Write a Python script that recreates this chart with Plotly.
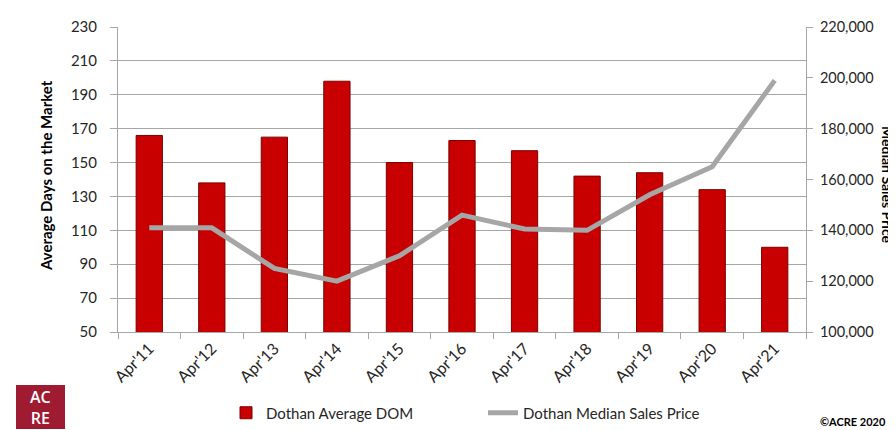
import plotly.graph_objects as go

categories = ["Apr'11", "Apr'12", "Apr'13", "Apr'14", "Apr'15", "Apr'16",
              "Apr'17", "Apr'18", "Apr'19", "Apr'20", "Apr'21"]
avg_dom = [166, 138, 165, 198, 150, 163, 157, 142, 144, 134, 100]
median_price = [141000, 141000, 125000, 120000, 130000, 146000,
                140500, 140000, 154000, 165000, 199000]

# page body has an 8px offset, so the figure is drawn 8px smaller and every
# reference pixel position is shifted by that amount
OFF = 8
W, H = 896 - OFF, 430 - OFF
L, R, T, B = 118, 806, 27, 332   # plot area in reference pixels

def px(x):
    return (x - L) / (R - L)

def py(y):
    return (B - y) / (B - T)

def cx(x):
    return (x - OFF) / W

def cy(y):
    return 1 - (y - OFF) / H

FONT = "Lato"

fig = go.Figure()
fig.add_trace(go.Bar(
    x=categories, y=avg_dom, name="Dothan Average DOM",
    marker=dict(color="#C80000", line=dict(color="#7A0000", width=1)),
    yaxis="y",
))
fig.add_trace(go.Scatter(
    x=categories, y=median_price, name="Dothan Median Sales Price",
    mode="lines", line=dict(color="#A6A6A6", width=5),
    yaxis="y2",
))

fig.update_layout(
    width=W, height=H,
    margin=dict(l=L - OFF, r=W - (R - OFF), t=T - OFF, b=H - (B - OFF),
                autoexpand=False),
    paper_bgcolor="white", plot_bgcolor="white",
    font=dict(family=FONT, size=14, color="#262626"),
    bargap=0.58,
    showlegend=True,
    legend=dict(orientation="h", xref="container", yref="container",
                x=cx(226), xanchor="left",
                y=cy(413), yanchor="middle",
                font=dict(size=15, color="#262626"),
                entrywidth=212, entrywidthmode="pixels",
                bgcolor="rgba(0,0,0,0)"),
    xaxis=dict(type="category", tickangle=-45, showgrid=False,
               showline=True, linecolor="#A6A6A6", linewidth=1,
               ticks="outside", tickson="boundaries", ticklen=6,
               tickcolor="#A6A6A6", tickfont=dict(size=16), automargin=False),
    yaxis=dict(range=[50, 230], tickvals=list(range(50, 231, 20)),
               showgrid=True, gridcolor="#A6A6A6", gridwidth=1,
               showline=True, linecolor="#A6A6A6", ticks="outside",
               ticklen=7, tickcolor="#A6A6A6", tickfont=dict(size=15),
               ticklabelstandoff=10, zeroline=False, automargin=False),
    yaxis2=dict(range=[100000, 220000], tickvals=list(range(100000, 220001, 20000)),
                overlaying="y", side="right", showgrid=False,
                showline=True, linecolor="#A6A6A6", ticks="outside",
                ticklen=6, tickcolor="#A6A6A6", tickformat=",",
                tickfont=dict(size=14.5), ticklabelstandoff=4,
                zeroline=False, automargin=False),
)

# left axis title
fig.add_annotation(xref="paper", yref="paper", x=px(46), y=py(176),
                   text="<b>Average Days on the Market</b>", textangle=-90,
                   showarrow=False, font=dict(size=15, color="#000000"),
                   xanchor="center", yanchor="middle")

# right axis title (reads top to bottom, partly cut by the frame like the original)
fig.add_annotation(xref="paper", yref="paper", x=px(888), y=py(185),
                   text="<b>Median Sales Price</b>", textangle=90,
                   showarrow=False, font=dict(size=14, color="#000000"),
                   xanchor="center", yanchor="middle")

# outer chart border
fig.add_shape(type="rect", xref="paper", yref="paper",
              x0=px(7), x1=px(1000), y0=py(500), y1=py(7),
              line=dict(color="#BFBFBF", width=1), fillcolor="rgba(0,0,0,0)",
              layer="below")

# ACRE logo
fig.add_shape(type="rect", xref="paper", yref="paper",
              x0=px(16), x1=px(65), y0=py(429), y1=py(385),
              line=dict(width=0), fillcolor="#9E1B32")
fig.add_annotation(xref="paper", yref="paper", x=px(40.5), y=py(407),
                   text="AC<br>RE", showarrow=False, borderpad=0,
                   font=dict(size=16, color="white", family="Open Sans", weight=600),
                   align="center", xanchor="center", yanchor="middle")

# copyright
fig.add_annotation(xref="paper", yref="paper", x=px(888), y=py(422),
                   text="<b>©ACRE 2020</b>", showarrow=False,
                   font=dict(size=11, color="#000000"),
                   xanchor="right", yanchor="middle")

fig.write_html("out.html")
